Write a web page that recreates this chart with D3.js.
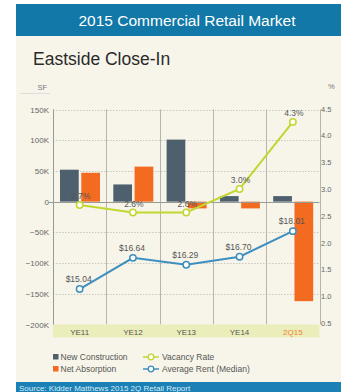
<!DOCTYPE html>
<html>
<head>
<meta charset="utf-8">
<script src="https://cdn.jsdelivr.net/npm/d3@7"></script>
<style>
  body { margin: 0; background: #fff; }
  svg { display: block; font-family: "Liberation Sans", Arial, sans-serif; }
</style>
</head>
<body>
<svg id="chart" width="341" height="392"></svg>
<script>
// data
const periods = ['YE11', 'YE12', 'YE13', 'YE14', '2Q15'];
const newConstruction = [52000, 28000, 101000, 9000, 9000];
const netAbsorption = [47000, 57000, -11000, -11000, -162000];
const vacancyRate = [2.7, 2.56, 2.56, 3.0, 4.25];
const avgRent = [15.04, 16.64, 16.29, 16.70, 18.01];
const sfTicks = [-200000, -150000, -100000, -50000, 0, 50000, 100000, 150000];
const pctTicks = [0.5, 1.0, 1.5, 2.0, 2.5, 3.0, 3.5, 4.0, 4.5];

const barColors = { nc: '#4e5f6d', na: '#f26b20' };
const vacColor = '#c3d630';
const rentColor = '#3e8fbf';

const svg = d3.select('#chart');

// panel + header
svg.append('rect').attr('x', 16).attr('y', 36).attr('width', 325).attr('height', 346).attr('fill', '#f7f5ea');
svg.append('rect').attr('x', 16).attr('y', 4).attr('width', 325).attr('height', 32).attr('fill', '#1178a8');
svg.append('text').attr('x', 187).attr('y', 26).attr('text-anchor', 'middle')
    .attr('fill', '#fff').attr('font-size', 15.5).text('2015 Commercial Retail Market');
svg.append('text').attr('x', 33).attr('y', 65).attr('fill', '#2a2a2a')
    .attr('font-size', 17.5).text('Eastside Close-In');

// source bar
svg.append('rect').attr('x', 16).attr('y', 382).attr('width', 325).attr('height', 10).attr('fill', '#1a80b6');
svg.append('text').attr('x', 19).attr('y', 391).attr('fill', '#d8ecf6')
    .attr('font-size', 8).text('Source: Kidder Matthews 2015 2Q Retail Report');

const pL = 53, pR = 319.5, pT = 109.5, pB = 324.5;

const x = d3.scaleBand().domain(periods).range([pL, pR]).padding(0);
const xs = d3.scaleBand().domain(['nc', 'na']).range([7, 47]).paddingInner(0.12);
const ySF = d3.scaleLinear().domain([-200000, 150000]).range([pB, pT]);
const yPct = d3.scaleLinear().domain([0.5, 4.5]).range([pB - 1.5, pT - 1]);
const yRent = d3.scaleLinear().domain([13.3, 24.3]).range([pB - 1.5, pT - 1]);

// axis titles
svg.append('text').attr('x', 47).attr('y', 90).attr('text-anchor', 'end')
    .attr('font-size', 7.5).attr('fill', '#777').text('SF');
svg.append('line').attr('x1', 20).attr('x2', 50).attr('y1', 93.5).attr('y2', 93.5)
    .attr('stroke', '#ddd').attr('stroke-width', 1);
svg.append('text').attr('x', 328).attr('y', 89)
    .attr('font-size', 7.5).attr('fill', '#777').text('%');

// horizontal dotted grid
svg.append('g').selectAll('line').data(sfTicks.filter(d => d !== 0 && d !== -200000)).join('line')
    .attr('x1', pL).attr('x2', pR)
    .attr('y1', d => Math.round(ySF(d)) + 0.5).attr('y2', d => Math.round(ySF(d)) + 0.5)
    .attr('stroke', '#c8c8c0').attr('stroke-dasharray', '1.5,1.5');

// vertical grid at band edges
const edges = periods.map(p => x(p)).concat([pR]);
svg.append('g').selectAll('line').data(edges).join('line')
    .attr('x1', d => Math.round(d) + 0.5).attr('x2', d => Math.round(d) + 0.5)
    .attr('y1', pT).attr('y2', pB)
    .attr('stroke', '#b5b5ad').attr('stroke-width', 1);

// x band
svg.append('rect').attr('x', pL).attr('y', pB).attr('width', pR - pL).attr('height', 13)
    .attr('fill', '#ebeebb');
svg.append('g').selectAll('text').data(periods).join('text')
    .attr('x', d => x(d) + x.bandwidth() / 2).attr('y', pB + 10)
    .attr('text-anchor', 'middle').attr('font-size', 8)
    .attr('fill', d => d === '2Q15' ? '#f07f2e' : '#555')
    .text(d => d);

// left axis labels
svg.append('g').selectAll('text').data(sfTicks).join('text')
    .attr('x', 49).attr('y', d => ySF(d) + 3)
    .attr('text-anchor', 'end').attr('font-size', 8).attr('fill', '#666')
    .text(d => d === 0 ? '0' : d3.format('d')(d / 1000) + 'K');

// right axis labels
svg.append('g').selectAll('text').data(pctTicks).join('text')
    .attr('x', 321).attr('y', d => yPct(d) + 3)
    .attr('font-size', 7.5).attr('fill', '#666')
    .text(d => d3.format('.1f')(d));

// bars
const rows = periods.map((p, i) => ({ p, nc: newConstruction[i], na: netAbsorption[i] }));
const barG = svg.append('g');
['nc', 'na'].forEach(key => {
    barG.selectAll('rect.' + key).data(rows).join('rect')
        .attr('class', key)
        .attr('x', d => x(d.p) + xs(key))
        .attr('width', xs.bandwidth())
        .attr('y', d => ySF(Math.max(0, d[key])))
        .attr('height', d => Math.abs(ySF(d[key]) - ySF(0)))
        .attr('fill', barColors[key]);
});

// zero line + left axis line
svg.append('line').attr('x1', pL - 4).attr('x2', pR)
    .attr('y1', Math.round(ySF(0)) + 0.5).attr('y2', Math.round(ySF(0)) + 0.5)
    .attr('stroke', '#9a9a94');
svg.append('line').attr('x1', pL + 0.5).attr('x2', pL + 0.5).attr('y1', pT).attr('y2', pB)
    .attr('stroke', '#9a9a94');

const cx = p => x(p) + x.bandwidth() / 2;

// vacancy line
const vac = periods.map((p, i) => ({ p, v: vacancyRate[i] }));
svg.append('path').datum(vac)
    .attr('fill', 'none').attr('stroke', vacColor).attr('stroke-width', 2)
    .attr('d', d3.line().x(d => cx(d.p)).y(d => yPct(d.v)));
svg.append('g').selectAll('circle').data(vac).join('circle')
    .attr('cx', d => cx(d.p)).attr('cy', d => yPct(d.v)).attr('r', 3.2)
    .attr('fill', '#fff').attr('stroke', vacColor).attr('stroke-width', 1.5);
svg.append('g').selectAll('text').data(vac).join('text')
    .attr('x', d => cx(d.p) + 1).attr('y', d => yPct(d.v) - 6)
    .attr('text-anchor', 'middle').attr('font-size', 8.5).attr('fill', '#555')
    .text(d => d.v.toFixed(1) + '%');

// rent line
const rent = periods.map((p, i) => ({ p, v: avgRent[i] }));
svg.append('path').datum(rent)
    .attr('fill', 'none').attr('stroke', rentColor).attr('stroke-width', 2)
    .attr('d', d3.line().x(d => cx(d.p)).y(d => yRent(d.v)));
svg.append('g').selectAll('circle').data(rent).join('circle')
    .attr('cx', d => cx(d.p)).attr('cy', d => yRent(d.v)).attr('r', 3.2)
    .attr('fill', '#fff').attr('stroke', rentColor).attr('stroke-width', 1.5);
svg.append('g').selectAll('text').data(rent).join('text')
    .attr('x', d => cx(d.p) - 1).attr('y', d => yRent(d.v) - 7)
    .attr('text-anchor', 'middle').attr('font-size', 8.5).attr('fill', '#555')
    .text(d => '$' + d.v.toFixed(2));

// legend
const lg = svg.append('g').attr('font-size', 8.5).attr('fill', '#555');
const legendBars = [['New Construction', barColors.nc], ['Net Absorption', barColors.na]];
legendBars.forEach(([label, col], i) => {
    lg.append('rect').attr('x', 53).attr('y', 354 + i * 12).attr('width', 5.5).attr('height', 5.5).attr('fill', col);
    lg.append('text').attr('x', 60.5).attr('y', 359.5 + i * 12).attr('fill', '#555').text(label);
});
const legendLines = [['Vacancy Rate', vacColor], ['Average Rent (Median)', rentColor]];
legendLines.forEach(([label, col], i) => {
    const yy = 357 + i * 12;
    lg.append('line').attr('x1', 143).attr('x2', 159).attr('y1', yy).attr('y2', yy)
        .attr('stroke', col).attr('stroke-width', 1.5);
    lg.append('circle').attr('cx', 151).attr('cy', yy).attr('r', 2.8)
        .attr('fill', '#fff').attr('stroke', col).attr('stroke-width', 1.3);
    lg.append('text').attr('x', 162).attr('y', yy + 2.5).attr('fill', '#555').text(label);
});
</script>
</body>
</html>
